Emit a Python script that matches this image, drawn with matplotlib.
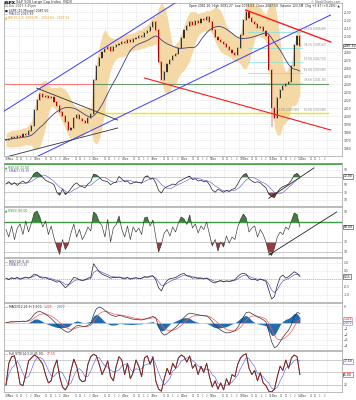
import numpy as np
import pandas as pd
import matplotlib
matplotlib.use("Agg")
import matplotlib.pyplot as plt
import matplotlib.transforms as mtransforms

plt.rcParams['font.family'] = ['DejaVu Sans']

# ---------------- data ----------------
close = [
    1970.0, 1971.3, 1973.8, 1972.5, 1975.0, 1973.8, 1977.5, 1976.3, 1981.3, 1987.5,
    2007.5, 2020.0, 2027.5, 2023.8, 2025.0, 2022.5, 2023.8, 2017.5, 2012.5, 2005.0,
    2000.0, 1992.5, 1982.5, 1985.0, 1997.5, 2001.3, 1996.3, 1993.8, 1991.3, 1997.5,
    2002.5, 2045.0, 2062.5, 2072.5, 2080.0, 2083.8, 2086.3, 2081.3, 2086.3, 2088.8,
    2090.0, 2092.5, 2091.3, 2095.0, 2092.5, 2096.3, 2097.5, 2100.0, 2098.8, 2103.8,
    2106.3, 2111.3, 2117.5, 2107.5, 2067.5, 2045.0, 2055.0, 2065.0, 2070.0, 2075.0,
    2077.5, 2085.0, 2097.5, 2107.5, 2112.5, 2117.5, 2113.8, 2118.8, 2116.3, 2121.3,
    2120.0, 2123.8, 2117.5, 2107.5, 2098.8, 2095.0, 2092.5, 2090.0, 2086.3, 2082.5,
    2078.8, 2076.3, 2085.0, 2101.3, 2120.0, 2130.0, 2122.5, 2117.5, 2115.0, 2110.0,
    2111.3, 2106.3, 2100.0, 2057.5, 2010.0, 1997.5, 2022.5, 2032.5, 2037.5, 2040.0,
    2042.5, 2062.5, 2088.8, 2100.0, 2087.5]

rsi14 = [
    52, 58, 50, 56, 48, 55, 60, 54, 58, 68,
    80, 84, 78, 70, 62, 58, 55, 50, 30, 22,
    38, 24, 30, 40, 50, 55, 48, 45, 42, 52,
    58, 78, 76, 70, 62, 60, 58, 50, 55, 57,
    72, 65, 58, 60, 52, 55, 58, 56, 54, 70,
    74, 66, 68, 55, 35, 28, 40, 45, 48, 52,
    50, 58, 62, 66, 70, 73, 64, 66, 60, 62,
    58, 60, 50, 36, 30, 38, 34, 30, 35, 32,
    38, 40, 52, 66, 76, 80, 66, 60, 56, 58,
    55, 48, 42, 25, 18, 16, 30, 40, 45, 48,
    52, 62, 76, 80, 72]

rsi5 = [
    55, 40, 62, 35, 58, 66, 45, 72, 50, 68,
    88, 92, 80, 60, 72, 45, 62, 38, 20, 5,
    35, 15, 25, 48, 66, 40, 55, 35, 45, 60,
    52, 90, 85, 70, 62, 40, 75, 30, 58, 65,
    82, 55, 40, 62, 35, 60, 50, 58, 45, 78,
    80, 62, 74, 40, 10, 25, 48, 55, 42, 60,
    50, 68, 80, 76, 65, 84, 58, 66, 48, 62,
    55, 70, 45, 22, 35, 12, 30, 20, 42, 28,
    40, 35, 60, 75, 86, 78, 50, 58, 62, 40,
    55, 45, 30, 8, 3, 18, 40, 50, 45, 60,
    55, 72, 88, 85, 60]

roc = [
    0.05, -0.05, 0.08, 0.02, 0.10, -0.02, 0.06, 0.12, 0.05, 0.15,
    0.30, 0.25, 0.10, 0.05, 0.08, 0.00, -0.05, -0.12, -0.20, -0.15,
    -0.35, -0.55, -0.40, -0.15, 0.10, 0.05, -0.05, -0.10, -0.05, 0.05,
    0.10, 0.95, 0.70, 0.45, 0.30, 0.22, 0.15, 0.05, 0.10, 0.08,
    0.12, 0.05, 0.00, 0.10, -0.02, 0.05, 0.08, 0.02, 0.05, 0.15,
    0.12, 0.18, 0.20, -0.05, -0.55, -0.75, -0.35, -0.10, 0.02, 0.05,
    0.08, 0.20, 0.30, 0.35, 0.20, 0.15, 0.05, 0.08, 0.02, 0.05,
    0.00, 0.06, -0.08, -0.20, -0.25, -0.15, -0.10, -0.18, -0.12, -0.15,
    -0.10, -0.05, 0.15, 0.30, 0.35, 0.30, 0.05, -0.05, -0.02, -0.10,
    0.00, -0.08, -0.15, -0.70, -1.25, -1.10, -0.40, 0.10, 0.25, 0.05,
    0.15, 0.30, 0.45, 0.35, 0.15]

macd = [
    0.2, 0.3, 0.5, 0.4, 0.6, 0.5, 0.7, 0.6, 0.9, 1.8,
    3.2, 4.0, 4.2, 3.8, 3.2, 2.5, 1.6, 0.6, -0.5, -1.5,
    -2.3, -3.0, -3.4, -2.8, -1.8, -1.0, -0.9, -1.2, -1.3, -0.8,
    -0.3, 3.0, 5.2, 5.8, 5.4, 4.6, 3.8, 3.0, 2.6, 2.4,
    2.8, 2.6, 2.2, 2.0, 1.6, 1.4, 1.3, 1.2, 1.1, 1.4,
    1.7, 2.0, 2.4, 1.8, -1.0, -3.5, -4.4, -4.0, -3.2, -2.4,
    -1.6, -0.5, 0.8, 2.0, 3.0, 3.6, 3.4, 3.2, 3.0, 2.8,
    2.6, 2.5, 1.8, 0.5, -0.8, -1.8, -2.6, -3.2, -3.6, -3.5,
    -3.2, -2.8, -1.6, 0.2, 2.2, 3.8, 4.0, 3.4, 2.8, 2.2,
    1.8, 1.2, 0.4, -3.0, -6.8, -9.0, -8.4, -6.8, -5.2, -3.8,
    -2.6, -0.6, 2.2, 3.8, 3.5]

stoch_k = [
    20, 72, 88, 90, 60, 22, 18, 45, 78, 85,
    92, 88, 80, 70, 45, 25, 30, 62, 80, 40,
    15, 8, 20, 55, 82, 65, 35, 28, 30, 70,
    88, 94, 90, 70, 45, 60, 78, 40, 30, 65,
    88, 80, 45, 72, 35, 50, 80, 65, 40, 85,
    90, 70, 88, 30, 10, 5, 35, 60, 45, 72,
    60, 85, 92, 88, 75, 90, 60, 70, 45, 65,
    50, 72, 40, 15, 30, 10, 25, 8, 35, 20,
    45, 40, 70, 85, 92, 95, 60, 45, 55, 30,
    50, 25, 18, 5, 3, 10, 40, 65, 55, 80,
    60, 85, 92, 88, 45]

day_labels = ["30Nov", "1Dec", "2Dec", "3Dec", "4Dec", "7Dec", "8Dec",
              "9Dec", "10Dec", "11Dec", "14Dec"]
hour_labels = ["11", "12", "1", "2"]
price_ticks = list(range(1960, 2140, 10))

fib_pct = ["23.6%", "38.2%", "50.0%", "61.8%", "78.6%"]
fib_price = [2105.0, 2085.0, 2067.5, 2053.8, 2041.3]
level_green = 2040.0
level_yellow = 2003.8

# trend lines: (x0, p0, x1, p1)
blue_upper = (-1.7, 2003.8, 66.0, 2155.0)
blue_lower = (8.5, 1945.0, 114.9, 2126.3)
red_upper = (84.8, 2132.5, 114.9, 2092.5)
red_lower = (49.0, 2047.5, 114.9, 1982.5)
black_down = (10.8, 2035.0, 39.5, 1995.0)
black_up = (0.0, 1948.8, 39.5, 1985.0)

# ---------------- layout ----------------
W, H = 356.0, 400.0
L, R = 4.0, 342.0
fig = plt.figure(figsize=(W / 100, H / 100), dpi=100)
fig.patch.set_facecolor("white")

def panel(top, bot):
    ax = fig.add_axes([L / W, 1 - bot / H, (R - L) / W, (bot - top) / H])
    for s in ax.spines.values():
        s.set_color("#a0a0a0")
        s.set_linewidth(0.5)
    return ax

ax1 = panel(3, 156)
ax2 = panel(163, 206)
ax3 = panel(207, 257)
ax4 = panel(258, 302)
ax5 = panel(303, 350)
ax6 = panel(351, 392)
axes = [ax1, ax2, ax3, ax4, ax5, ax6]

XL = (-0.34, 113.8)
day_pos = [-0.7 + 10.4 * k for k in range(len(day_labels))]
hour_frac = [0.45, 0.60, 0.75, 0.90]
vgrid = []
for d in day_pos + [day_pos[-1] + 10.4]:
    vgrid += [d, d + 5.2]

for ax in axes:
    ax.set_xlim(*XL)
    ax.set_xticks(vgrid)
    ax.tick_params(axis="x", length=0, labelbottom=False)
    ax.yaxis.tick_right()
    ax.tick_params(axis="y", length=0, labelsize=2.2, pad=1.5, labelcolor="#444444")
    ax.grid(True, color="#e8e8e8", lw=0.4)
    ax.set_axisbelow(True)

box_kw = dict(boxstyle="square,pad=0.15", fc="white", lw=0.4)

# ---------------- main price panel ----------------
c = np.array(close)
xi = np.arange(len(c))
s = pd.Series(c)
mid = s.rolling(6, min_periods=1).mean()
sd = s.rolling(6, min_periods=2).std().fillna(0)
bb_up = mid + 1.4 * sd + 8
bb_lo = mid - 1.4 * sd - 8
ma = s.rolling(14, min_periods=1).mean()

ax1.set_ylim(1950, 2141.25)
ticks1 = [t for t in price_ticks if abs(t - c[-1]) > 6]
ax1.set_yticks(ticks1)
ax1.set_yticklabels([f"{t}" for t in ticks1])
ax1.fill_between(xi, bb_lo, bb_up, color="#f4d9a6", lw=0, zorder=1)

o = np.r_[c[0], c[:-1]]
hi = np.maximum(o, c) + 1.5
lo = np.minimum(o, c) - 1.5
lo[94] = 1986.0
up = c >= o
col = np.where(up, "#333333", "#c00000")
ax1.vlines(xi, lo, hi, color=col, lw=0.35, zorder=3)
ax1.bar(xi, np.maximum(np.abs(c - o), 0.8), bottom=np.minimum(o, c), width=0.4,
        color=col, lw=0, zorder=3)
ax1.plot(xi, ma, color="#404078", lw=0.6, zorder=4)

def tline(ax, t, **kw):
    ax.plot([t[0], t[2]], [t[1], t[3]], **kw)

tline(ax1, blue_upper, color="#3b3bff", lw=0.7, zorder=5)
tline(ax1, blue_lower, color="#3b3bff", lw=0.7, zorder=5)
tline(ax1, red_upper, color="#ff1a1a", lw=1.0, zorder=5)
tline(ax1, red_lower, color="#ff1a1a", lw=0.8, zorder=5)
tline(ax1, black_down, color="#333333", lw=0.6, zorder=5)
tline(ax1, black_up, color="#333333", lw=0.6, zorder=5)

ax1.plot([XL[0], 31], [level_green, level_green], color="#ff7777", lw=0.8, zorder=2)
ax1.plot([31, XL[1]], [level_green, level_green], color="#6a9a6a", lw=0.8, zorder=2)
ax1.plot([31, XL[1]], [level_yellow, level_yellow], color="#e8e800", lw=1.0, zorder=2)
for xt in (96.0, 105.5):
    ax1.text(xt, level_yellow + 1, f"50.0% ({level_yellow:.2f})", fontsize=1.9,
             color="#888888", va="bottom", zorder=6)
for pct, fp in zip(fib_pct, fib_price):
    ax1.plot([85.5, 104.7], [fp, fp], color="#7fdede", lw=0.5, zorder=2)
    ax1.text(105.5, fp + 1, f"{pct} ({fp:.2f})", fontsize=1.9, color="#888888",
             va="bottom", zorder=6)

ax1.text(1.004, c[-1], f"{c[-1]:.2f}", transform=ax1.get_yaxis_transform(),
         fontsize=2.2, va="center", bbox=dict(ec="#333333", **box_kw))

# header
fig.text(4 / W, 1 - 2.5 / H, "$SPX", fontsize=3.0, weight="bold", va="center")
fig.text(16.5 / W, 1 - 2.5 / H, "S&P 500 Large Cap Index  INDX", fontsize=2.5,
         va="center", color="#333333")
fig.text(4 / W, 1 - 6.5 / H, "14-Dec-2015 3:45pm", fontsize=2.2, va="center",
         color="#555555")
fig.text(340 / W, 1 - 2.2 / H, "© StockCharts.com", fontsize=2.2, va="center",
         ha="right", color="#555555")
fig.text(340 / W, 1 - 5.8 / H,
         "Open 2081.26  High 2091.27  Low 2079.03  Close 2087.50  Volume 123.5M  Chg +5.87 (+0.28%) ▲",
         fontsize=2.2, va="center", ha="right", color="#222222")
for k, (txt, cl) in enumerate([("■ $SPX (15 Minute) 2087.50", "#222222"),
                                ("— MA(50) 2063.89", "#404078"),
                                ("▲ BB(20,2.0) 2099.76 - 2063.64 - 2027.52", "#d99a2b")]):
    fig.text(5 / W, 1 - (10.5 + 3.6 * k) / H, txt, fontsize=2.2, va="center", color=cl)

# ---------------- RSI(14) panel ----------------
r14 = np.array(rsi14, dtype=float)
x2 = np.arange(len(r14))
ax2.set_ylim(-6.7, 108)
ax2.set_yticks([10, 30, 50, 90])
ax2.axhline(105, color="#3f9a3f", lw=1.3)
for lv in (30, 70):
    ax2.axhline(lv, color="#bbbbbb", lw=0.5)
ax2.fill_between(x2, r14, 70, where=r14 >= 70, interpolate=True, color="#3f7f3f", lw=0)
ax2.fill_between(x2, r14, 30, where=r14 <= 30, interpolate=True, color="#9a3a3a", lw=0)
ax2.plot(x2, pd.Series(r14).rolling(5, min_periods=1).mean(), color="#5555cc", lw=0.4)
ax2.plot(x2, r14, color="#222222", lw=0.5)
ax2.plot([93, 109], [14, 95], color="#222222", lw=0.6)
ax2.text(0.004, 0.90, "▲ RSI(14) 72.00", transform=ax2.transAxes, fontsize=2.2,
         va="center", color="#2f7f2f")
ax2.text(0.004, 0.82, "— EMA(5) 74.30", transform=ax2.transAxes, fontsize=2.2,
         va="center", color="#5555cc")
ax2.text(1.004, r14[-1], f"{r14[-1]:.2f}", transform=ax2.get_yaxis_transform(),
         fontsize=2.2, va="center", bbox=dict(ec="#333333", **box_kw))

# ---------------- RSI(5) panel ----------------
r5 = np.array(rsi5, dtype=float)
x3 = np.arange(len(r5))
ax3.set_ylim(0, 100)
ax3.set_yticks([10, 30, 90])
ax3.axhline(70, color="#3f9a3f", lw=1.0)
ax3.axhline(30, color="#bbbbbb", lw=0.5)
ax3.axhline(10, color="#bbbbbb", lw=0.5)
ax3.fill_between(x3, r5, 70, where=r5 >= 70, interpolate=True, color="#3f7f3f", lw=0)
ax3.fill_between(x3, r5, 30, where=r5 <= 30, interpolate=True, color="#9a3a3a", lw=0)
ax3.plot(x3, r5, color="#333333", lw=0.45)
ax3.plot([93, 117], [4, 90], color="#222222", lw=0.6, clip_on=False)
ax3.text(0.004, 0.93, "▲ RSI(5) 60.00", transform=ax3.transAxes, fontsize=2.2,
         va="center", color="#2f7f2f")
ax3.text(1.004, r5[-1], f"{r5[-1]:.2f}", transform=ax3.get_yaxis_transform(),
         fontsize=2.2, va="center", bbox=dict(ec="#333333", **box_kw))

# ---------------- ROC panel ----------------
rc = np.array(roc)
x4 = np.arange(len(rc))
ax4.set_ylim(-1.44, 1.31)
ax4.set_yticks([-1.0, -0.5, 0.5, 1.0])
ax4.set_yticklabels(["-1.0", "-0.5", "0.5", "1.0"])
ax4.axhline(0, color="#aaaaaa", lw=0.5, ls=(0, (2, 1)))
ax4.plot(x4, pd.Series(rc).ewm(span=4).mean(), color="#5555cc", lw=0.45)
ax4.plot(x4, rc, color="#222222", lw=0.5)
ax4.text(0.004, 0.91, "— ROC(12) 0.15", transform=ax4.transAxes, fontsize=2.2,
         va="center", color="#222222")
ax4.text(0.004, 0.83, "— EMA(4) 0.26", transform=ax4.transAxes, fontsize=2.2,
         va="center", color="#5555cc")
ax4.text(1.004, rc[-1], f"{rc[-1]:.2f}", transform=ax4.get_yaxis_transform(),
         fontsize=2.2, va="center", bbox=dict(ec="#333333", **box_kw))

# ---------------- MACD panel ----------------
mc = np.array(macd)
x5 = np.arange(len(mc))
sig = pd.Series(mc).ewm(span=5).mean().values
hist = mc - sig
ax5.set_ylim(-9.8, 7.27)
ax5.set_yticks([-8, -6, -4, -2, 6])
ax5.fill_between(x5, hist, 0, color="#1f6db0", lw=0)
ax5.axhline(0, color="#cccccc", lw=0.4)
ax5.plot(x5, sig, color="#ff5555", lw=0.5)
ax5.plot(x5, mc, color="#333333", lw=0.5)
ax5.text(0.004, 0.92, "— MACD(12,26,9) 3.500,", transform=ax5.transAxes,
         fontsize=2.2, va="center", color="#222222")
ax5.text(0.118, 0.92, f"{sig[-1]:.3f},", transform=ax5.transAxes, fontsize=2.2,
         va="center", color="#ff3333")
ax5.text(0.155, 0.92, f"{hist[-1]:.3f}", transform=ax5.transAxes, fontsize=2.2,
         va="center", color="#3355cc")
ax5.text(1.004, sig[-1], f"{sig[-1]:.3f}", transform=ax5.get_yaxis_transform(),
         fontsize=2.2, va="center", color="#cc2222", bbox=dict(ec="#ff6666", **box_kw))
ax5.text(1.004, 0, f"{hist[-1]:.3f}", transform=ax5.get_yaxis_transform(),
         fontsize=2.2, va="center", color="#2244aa", bbox=dict(ec="#6688dd", **box_kw))

# ---------------- Stochastics panel ----------------
sk = np.array(stoch_k, dtype=float)
x6 = np.arange(len(sk))
sdn = pd.Series(sk).rolling(4, min_periods=1).mean().values
ax6.set_ylim(3.1, 101.7)
ax6.set_yticks([20])
for lv in (20, 50, 80):
    ax6.axhline(lv, color="#bbbbbb", lw=0.5)
ax6.plot(x6, sdn, color="#6666dd", lw=0.45)
ax6.plot(x6, sk, color="#222222", lw=0.7)
ax6.plot(x6, sk, color="#dd2222", lw=0.35)
ax6.text(0.004, 0.92, "— Full STO(14,3,3) 45.00,", transform=ax6.transAxes,
         fontsize=2.2, va="center", color="#222222")
ax6.text(0.128, 0.92, f"{sdn[-1]:.2f}", transform=ax6.transAxes, fontsize=2.2,
         va="center", color="#dd2222")
ax6.text(1.004, sdn[-1], f"{sdn[-1]:.2f}", transform=ax6.get_yaxis_transform(),
         fontsize=2.2, va="center", bbox=dict(ec="#6666dd", **box_kw))
ax6.text(1.004, sk[-1], f"{sk[-1]:.2f}", transform=ax6.get_yaxis_transform(),
         fontsize=2.2, va="center", bbox=dict(ec="#dd2222", **box_kw))

# ---------------- date axes ----------------
def date_row(ypx):
    tr = mtransforms.blended_transform_factory(ax1.transData, fig.transFigure)
    yy = 1 - ypx / H
    for d, lab in zip(day_pos + [day_pos[-1] + 10.4], day_labels + [""]):
        if lab:
            fig.text(max(d, -0.3), yy, lab, transform=tr, fontsize=2.1, va="center",
                     ha="left", color="#333333")
        for f, hl in zip(hour_frac, hour_labels):
            xx = d + 10.4 * f
            if xx < XL[1] - 0.5:
                fig.text(xx, yy, hl, transform=tr, fontsize=1.9, va="center",
                         ha="center", color="#666666")

date_row(159.5)
date_row(396)

fig.savefig("out.png", dpi=100, facecolor="white")
